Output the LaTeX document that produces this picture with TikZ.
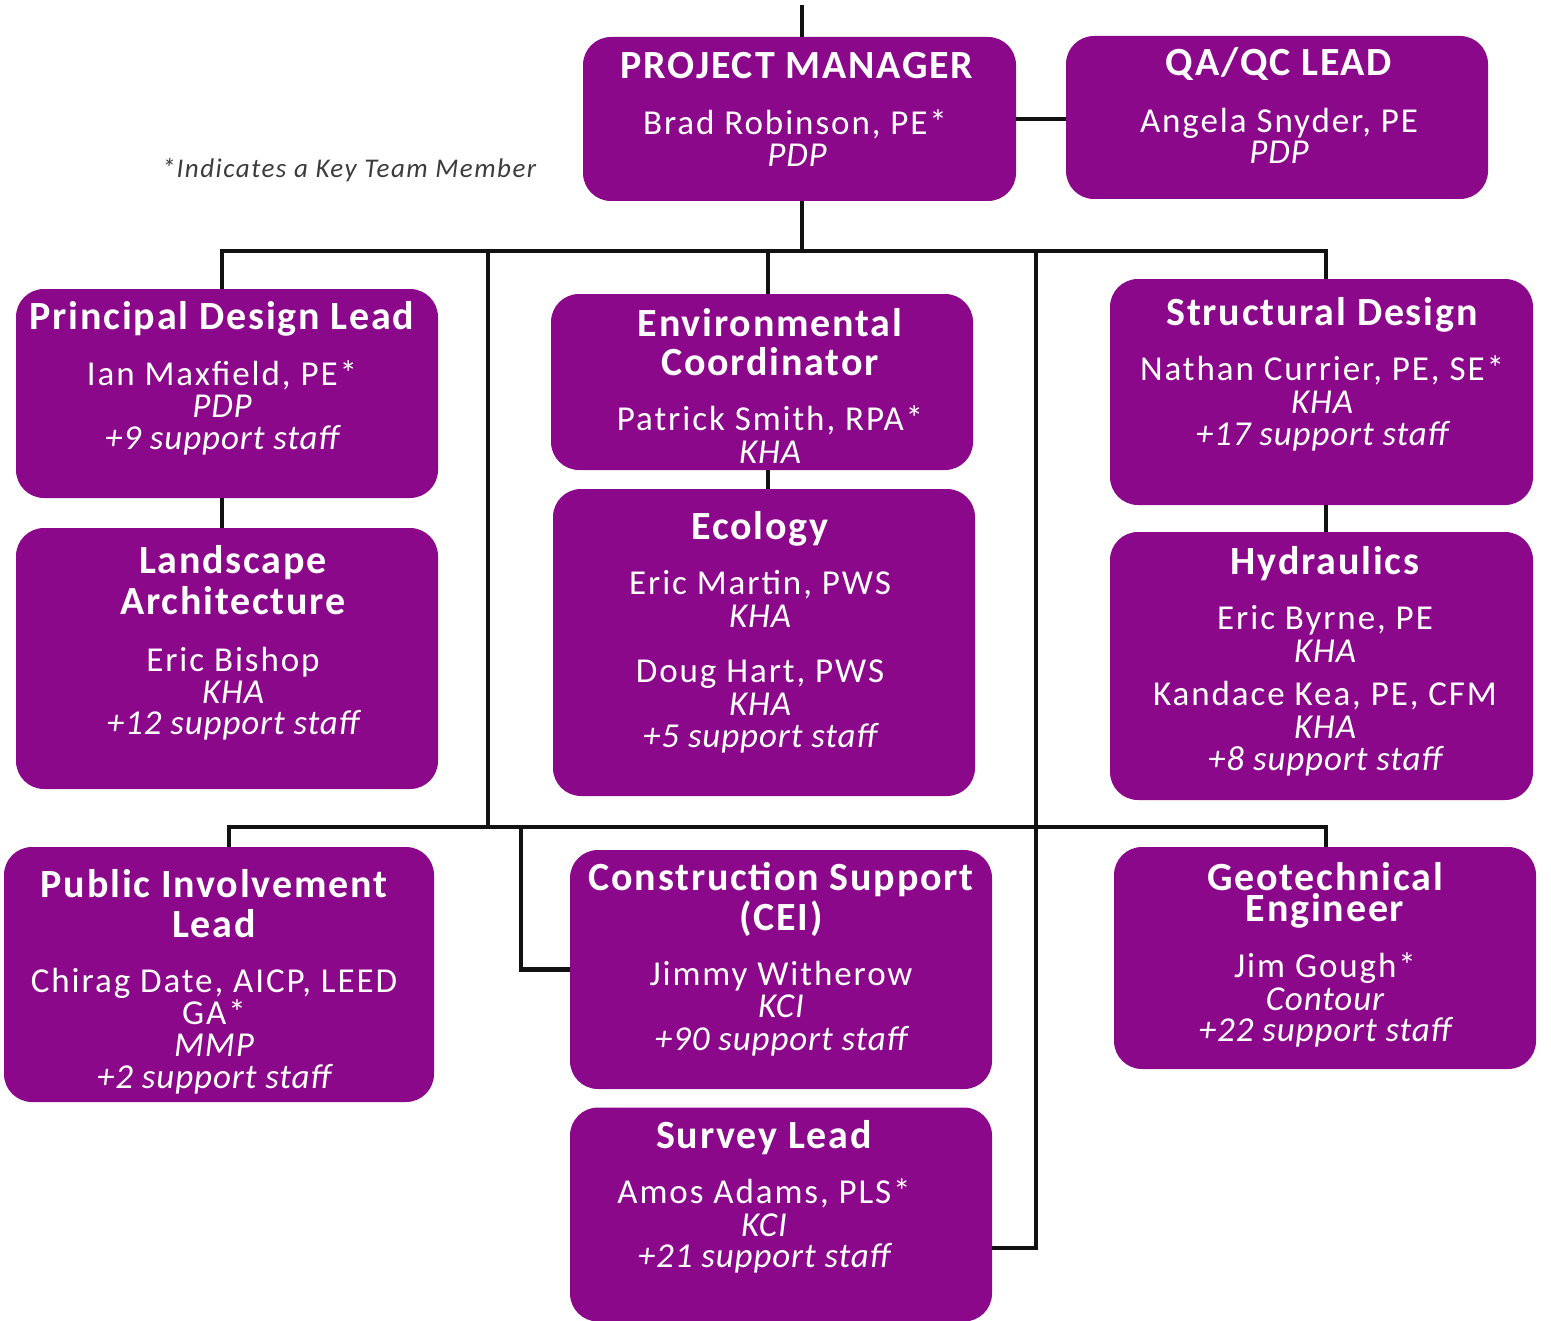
\documentclass[tikz,border=0pt]{standalone}
\usepackage{fontspec}
\setmainfont{Carlito}[LetterSpace=5.5]
\newfontfamily\ttlfont{Carlito}[LetterSpace=4.5]
\newfontfamily\itfont{Carlito}[LetterSpace=2.5]
\definecolor{purp}{RGB}{139,8,139}
\definecolor{notegray}{RGB}{60,60,60}
\begin{document}
\begin{tikzpicture}[x=0.5pt,y=-0.5pt,
  box/.style={fill=purp,draw=none,rounded corners=14pt,inner sep=0pt,outer sep=0pt},
  ttl/.style={text=white,anchor=base,inner sep=0pt,font=\fontsize{20}{24}\selectfont\ttlfont\bfseries},
  nm/.style={text=white,anchor=base,inner sep=0pt,font=\fontsize{17.5}{21}\selectfont},
  it/.style={text=white,anchor=base,inner sep=0pt,font=\fontsize{17.5}{21}\selectfont\itfont\itshape},
  conn/.style={line width=2.1pt,draw=black!93}]
\useasboundingbox (0,0) rectangle (1551,1321);
% boxes
\node[box,minimum width=216.5pt,minimum height=82pt] (pm) at (799.5,119) {};
\node[box,minimum width=211pt,minimum height=81.5pt] (qa) at (1277,117.5) {};
\node[box,minimum width=211pt,minimum height=104.5pt] (pdl) at (227,393.5) {};
\node[box,minimum width=211pt,minimum height=130.5pt] (la) at (227,658.5) {};
\node[box,minimum width=211pt,minimum height=88pt] (env) at (762,382) {};
\node[box,minimum width=211pt,minimum height=153.5pt] (eco) at (764,642.5) {};
\node[box,minimum width=211.5pt,minimum height=113pt] (str) at (1321.5,392) {};
\node[box,minimum width=211.5pt,minimum height=134pt] (hyd) at (1321.5,666) {};
\node[box,minimum width=215pt,minimum height=127.5pt] (pub) at (219,974.5) {};
\node[box,minimum width=211pt,minimum height=119.5pt] (con) at (781,969.5) {};
\node[box,minimum width=211pt,minimum height=111pt] (geo) at (1325,958) {};
\node[box,minimum width=211pt,minimum height=107pt] (sur) at (781,1214.5) {};
% connector coordinates
\coordinate (top) at (802,5);
\coordinate (bus) at (802,251);
\coordinate (bL) at (222,251);
\coordinate (bR) at (1326,251);
\coordinate (bE) at (768,251);
\coordinate (v1) at (488,251);
\coordinate (v2) at (1036,251);
\coordinate (lL) at (229,827);
\coordinate (lR) at (1326,827);
\coordinate (cj) at (521,827);
\coordinate (sj) at (1036,1248);
% connectors
\draw[conn] (top) -- (top |- pm.north);
\draw[conn] (top |- pm.south) -- (bus);
\draw[conn] (pm.east) -- (pm.east -| qa.west);
\draw[conn] (bL |- pdl.north) -- (bL) -- (bR) -- (bR |- str.north);
\draw[conn] (bL |- pdl.south) -- (bL |- la.north);
\draw[conn] (bE) -- (bE |- env.north);
\draw[conn] (bE |- env.south) -- (bE |- eco.north);
\draw[conn] (bR |- str.south) -- (bR |- hyd.north);
\draw[conn] (v1) -- (v1 |- lL);
\draw[conn] (lL |- pub.north) -- (lL) -- (lR) -- (lR |- geo.north);
\draw[conn] (v2) -- (sj) -- (sj -| sur.east);
\draw[conn] (cj) -- (cj |- con.west) -- (con.west);
% note
\node[anchor=base,inner sep=0pt,text=notegray,font=\fontsize{13.5}{16}\selectfont\itshape] (note) at (349,178) {*Indicates a Key Team Member};
% PM
\node[ttl] (pm1) at (797,79) {PROJECT MANAGER};
\node[nm] (pm2) at (795,135) {Brad Robinson, PE*};
\node[it] (pm3) at (797,167) {PDP};
% QA
\node[ttl] (qa1) at (1279,76) {QA/QC LEAD};
\node[nm] (qa2) at (1279,133) {Angela Snyder, PE};
\node[it] (qa3) at (1279,164) {PDP};
% Principal
\node[ttl] (pdl1) at (222,329) {Principal Design Lead};
\node[nm] (pdl2) at (222,385) {Ian Maxfield, PE*};
\node[it] (pdl3) at (222,417) {PDP};
\node[it] (pdl4) at (222,449) {+9 support staff};
% Landscape
\node[ttl] (la1) at (233,573) {Landscape};
\node[ttl] (la2) at (233,614) {Architecture};
\node[nm] (la3) at (233,671) {Eric Bishop};
\node[it] (la4) at (233,703) {KHA};
\node[it] (la5) at (233,734) {+12 support staff};
% Environmental
\node[ttl] (env1) at (770,336) {Environmental};
\node[ttl] (env2) at (770,375) {Coordinator};
\node[nm] (env3) at (770,430) {Patrick Smith, RPA*};
\node[it] (env4) at (770,463) {KHA};
% Ecology
\node[ttl] (eco1) at (760,539) {Ecology};
\node[nm] (eco2) at (760,594) {Eric Martin, PWS};
\node[it] (eco3) at (760,627) {KHA};
\node[nm] (eco4) at (760,682) {Doug Hart, PWS};
\node[it] (eco5) at (760,715) {KHA};
\node[it] (eco6) at (760,747) {+5 support staff};
% Structural
\node[ttl] (str1) at (1322,325) {Structural Design};
\node[nm] (str2) at (1322,380) {Nathan Currier, PE, SE*};
\node[it] (str3) at (1322,413) {KHA};
\node[it] (str4) at (1322,445) {+17 support staff};
% Hydraulics
\node[ttl] (hyd1) at (1325,574) {Hydraulics};
\node[nm] (hyd2) at (1325,629) {Eric Byrne, PE};
\node[it] (hyd3) at (1325,662) {KHA};
\node[nm] (hyd4) at (1325,705) {Kandace Kea, PE, CFM};
\node[it] (hyd5) at (1325,738) {KHA};
\node[it] (hyd6) at (1325,770) {+8 support staff};
% Public
\node[ttl] (pub1) at (214,897) {Public Involvement};
\node[ttl] (pub2) at (214,937) {Lead};
\node[nm] (pub3) at (214,992) {Chirag Date, AICP, LEED};
\node[nm] (pub4) at (214,1024) {GA*};
\node[it] (pub5) at (214,1056) {MMP};
\node[it] (pub6) at (214,1088) {+2 support staff};
% Construction
\node[ttl] (con1) at (781,890) {Construction Support};
\node[ttl] (con2) at (781,930) {(CEI)};
\node[nm] (con3) at (781,985) {Jimmy Witherow};
\node[it] (con4) at (781,1017) {KCI};
\node[it] (con5) at (781,1050) {+90 support staff};
% Geotechnical
\node[ttl] (geo1) at (1325,890) {Geotechnical};
\node[ttl] (geo2) at (1325,921) {Engineer};
\node[nm] (geo3) at (1325,977) {Jim Gough*};
\node[it] (geo4) at (1325,1010) {Contour};
\node[it] (geo5) at (1325,1041) {+22 support staff};
% Survey
\node[ttl] (sur1) at (764,1148) {Survey Lead};
\node[nm] (sur2) at (764,1203) {Amos Adams, PLS*};
\node[it] (sur3) at (764,1236) {KCI};
\node[it] (sur4) at (764,1267) {+21 support staff};
\end{tikzpicture}
\end{document}
